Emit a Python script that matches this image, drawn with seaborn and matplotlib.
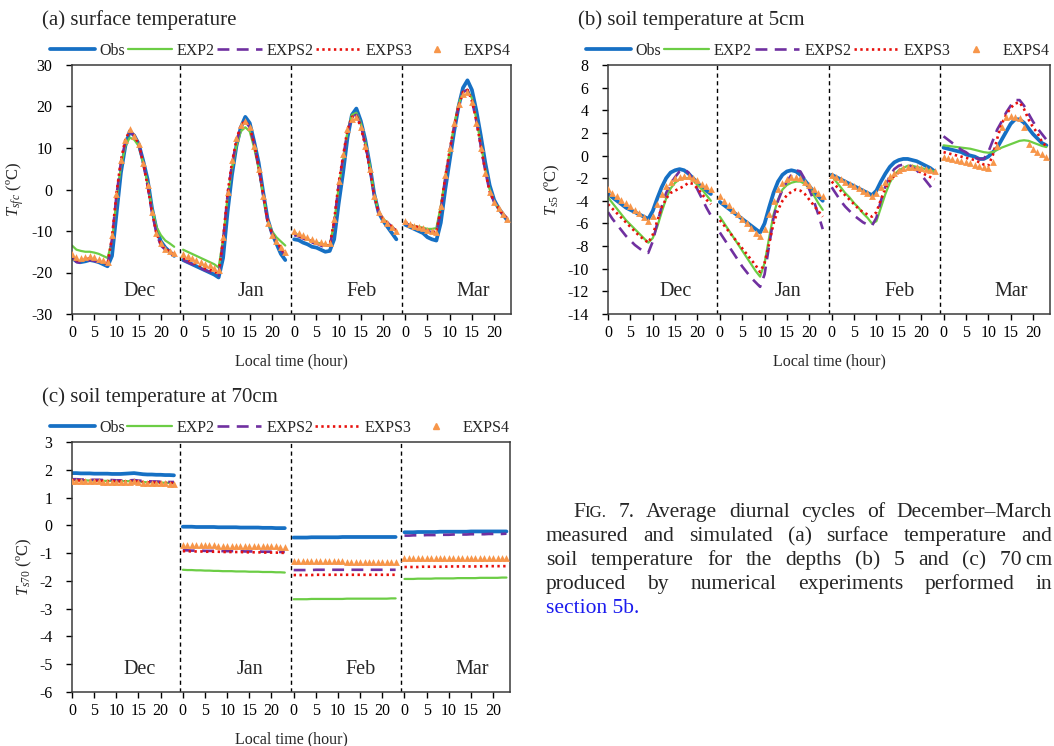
import numpy as np
import pandas as pd
import matplotlib
matplotlib.use("Agg")
import matplotlib.pyplot as plt
from matplotlib.lines import Line2D
from matplotlib.transforms import IdentityTransform
import seaborn as sns

sns.set_style("ticks")
plt.rcParams["font.family"] = ["Liberation Serif", "DejaVu Serif"]
plt.rcParams["mathtext.fontset"] = "custom"
plt.rcParams["mathtext.rm"] = "Liberation Serif"
plt.rcParams["mathtext.it"] = "Liberation Serif:italic"

months = ["Dec", "Jan", "Feb", "Mar"]
hours = list(range(24))
names = ["Obs", "EXP2", "EXPS2", "EXPS3", "EXPS4"]

# (a) surface temperature, Dec | Jan | Feb | Mar, hourly
sfc_obs = [-16.5, -17.3, -17.5, -17.3, -17.0, -17.2, -17.5, -18.0, -18.5, -16.0, -6.0, 4.0, 10.5, 14.0, 13.0, 11.0, 7.0, 2.5, -4.5, -9.5, -12.5, -14.0, -15.0, -16.0,
           -17.0, -17.5, -18.0, -18.5, -19.0, -19.5, -20.0, -20.5, -21.2, -16.5, -5.5, 3.5, 10.5, 15.0, 17.5, 16.0, 11.5, 6.5, -0.5, -7.0, -10.5, -13.0, -15.5, -17.0,
           -12.0, -12.2, -12.8, -13.2, -13.8, -14.0, -14.5, -15.0, -14.8, -12.0, -3.5, 4.0, 12.5, 18.0, 19.5, 16.5, 12.0, 6.0, -1.0, -5.5, -7.5, -9.0, -10.5, -12.0,
           -8.5, -9.0, -9.5, -10.0, -10.5, -11.5, -12.0, -12.3, -8.0, 0.0, 7.0, 14.0, 20.0, 24.5, 26.3, 24.0, 19.0, 13.0, 6.5, 1.0, -2.5, -4.5, -6.0, -7.5]
sfc_exp2 = [-13.5, -14.5, -14.8, -15.0, -15.0, -15.2, -15.5, -16.0, -16.5, -12.5, -2.5, 5.5, 10.5, 12.5, 12.0, 10.5, 6.5, 1.5, -4.5, -9.0, -11.0, -12.3, -13.0, -13.8,
            -14.5, -15.0, -15.5, -16.0, -16.5, -17.0, -17.5, -18.0, -18.8, -12.0, -2.0, 5.0, 10.5, 14.0, 15.0, 14.0, 10.0, 5.0, -1.0, -7.5, -10.0, -11.5, -12.5, -13.5,
            -10.5, -11.0, -11.5, -12.0, -12.5, -12.8, -13.0, -13.5, -13.5, -8.0, 0.5, 7.0, 14.0, 18.0, 18.5, 16.0, 11.5, 6.0, -1.0, -5.5, -7.0, -8.0, -9.0, -10.0,
            -8.0, -8.5, -8.8, -9.0, -9.2, -9.5, -9.5, -9.3, -4.0, 3.0, 9.0, 15.5, 20.5, 23.5, 24.0, 22.0, 17.0, 11.0, 5.0, 0.0, -3.0, -4.5, -6.0, -7.0]
sfc_exps2 = [-16.0, -17.5, -17.7, -17.3, -17.0, -17.2, -17.5, -17.8, -18.2, -12.0, -1.5, 6.5, 11.5, 14.0, 13.0, 11.0, 6.5, 1.0, -5.5, -10.5, -13.5, -14.5, -15.2, -16.0,
             -17.0, -17.5, -18.0, -18.5, -19.0, -19.5, -19.8, -20.2, -20.8, -12.5, -1.5, 6.0, 11.5, 15.0, 16.5, 15.0, 11.0, 5.5, -1.0, -7.5, -10.5, -12.5, -14.5, -16.0,
             -11.0, -11.3, -11.8, -12.3, -12.8, -13.0, -13.5, -14.0, -14.0, -8.0, 1.0, 7.5, 14.0, 17.5, 18.0, 15.5, 11.0, 5.5, -1.5, -5.5, -7.0, -8.0, -9.0, -10.0,
             -8.0, -8.7, -9.0, -9.3, -9.5, -10.0, -10.3, -10.5, -5.0, 2.5, 9.0, 15.0, 20.0, 23.5, 24.0, 21.5, 16.5, 10.5, 4.5, -0.5, -3.0, -4.5, -6.0, -7.0]
sfc_exps3 = [-16.0, -17.0, -17.2, -16.8, -16.6, -16.8, -17.2, -17.5, -18.0, -11.5, -1.0, 7.0, 12.0, 14.2, 13.0, 11.0, 6.5, 1.0, -5.5, -10.5, -13.2, -14.2, -15.0, -15.7,
             -16.5, -17.0, -17.5, -18.0, -18.5, -19.0, -19.3, -19.8, -20.3, -12.0, -1.0, 6.5, 12.0, 15.5, 16.5, 15.0, 11.0, 5.5, -1.0, -7.5, -10.5, -12.5, -14.0, -15.5,
             -10.5, -11.0, -11.5, -12.0, -12.5, -12.8, -13.2, -13.5, -13.5, -7.5, 1.5, 8.0, 14.5, 17.5, 17.8, 15.0, 10.5, 5.0, -1.5, -5.5, -7.0, -8.0, -9.0, -10.0,
             -7.8, -8.5, -8.8, -9.1, -9.4, -9.8, -10.1, -10.3, -4.5, 3.0, 9.5, 15.5, 20.0, 23.5, 24.0, 21.5, 16.5, 10.5, 4.5, -0.5, -3.0, -4.5, -6.0, -7.0]
sfc_exps4 = [-15.5, -16.3, -16.5, -16.2, -16.0, -16.2, -16.7, -17.0, -17.5, -11.0, -1.0, 7.0, 12.0, 14.5, 13.0, 11.0, 6.5, 1.0, -5.5, -10.5, -13.0, -14.3, -14.8, -15.3,
             -15.5, -16.0, -16.5, -17.0, -17.5, -18.0, -18.3, -18.8, -19.3, -11.5, -0.5, 7.0, 12.5, 15.5, 16.5, 15.0, 10.5, 5.0, -1.5, -8.0, -11.0, -12.5, -13.8, -15.0,
             -10.0, -10.5, -11.0, -11.5, -12.0, -12.3, -12.7, -13.0, -13.0, -7.0, 2.0, 8.5, 14.5, 17.0, 17.5, 15.0, 10.5, 5.0, -1.5, -5.5, -7.0, -8.0, -9.0, -10.0,
             -7.5, -8.3, -8.7, -9.0, -9.3, -9.8, -10.0, -10.2, -4.0, 3.5, 10.0, 16.0, 20.5, 23.0, 23.5, 21.0, 16.0, 10.0, 4.0, -0.5, -3.0, -4.5, -6.0, -7.0]

# (b) soil temperature at 5 cm
s5_obs = [-3.4, -3.7, -4.0, -4.3, -4.6, -4.8, -5.0, -5.2, -5.4, -5.6, -4.9, -3.8, -2.8, -2.0, -1.5, -1.3, -1.2, -1.3, -1.6, -2.0, -2.4, -2.8, -3.1, -3.4,
          -4.1, -4.4, -4.7, -5.0, -5.3, -5.6, -5.9, -6.2, -6.5, -6.8, -6.0, -4.6, -3.3, -2.3, -1.7, -1.4, -1.3, -1.4, -1.7, -2.2, -2.7, -3.2, -3.6, -4.0,
          -1.7, -1.9, -2.1, -2.3, -2.5, -2.7, -2.9, -3.1, -3.3, -3.5, -3.1, -2.3, -1.6, -1.0, -0.6, -0.4, -0.3, -0.3, -0.4, -0.5, -0.7, -0.9, -1.1, -1.4,
          0.7, 0.6, 0.5, 0.4, 0.3, 0.1, 0.0, -0.1, -0.3, -0.3, -0.1, 0.3, 0.7, 1.4, 2.1, 2.8, 3.2, 3.2, 2.9, 2.4, 1.9, 1.5, 1.1, 0.9]
s5_exp2 = [-3.7, -4.2, -4.7, -5.2, -5.7, -6.1, -6.5, -6.9, -7.3, -7.7, -7.3, -6.3, -5.0, -3.8, -2.9, -2.4, -2.1, -2.0, -2.0, -2.2, -2.6, -3.0, -3.5, -4.0,
           -5.4, -6.0, -6.6, -7.2, -7.8, -8.4, -9.0, -9.6, -10.2, -10.7, -9.5, -7.3, -5.2, -3.9, -3.0, -2.6, -2.4, -2.3, -2.3, -2.5, -2.9, -3.5, -4.2, -4.8,
           -1.8, -2.3, -2.8, -3.3, -3.7, -4.2, -4.6, -5.1, -5.5, -6.0, -5.8, -4.6, -3.4, -2.4, -1.7, -1.3, -1.1, -0.9, -0.9, -1.0, -1.1, -1.2, -1.3, -1.4,
           0.9, 0.85, 0.8, 0.75, 0.7, 0.65, 0.6, 0.5, 0.4, 0.3, 0.25, 0.3, 0.5, 0.7, 0.85, 1.0, 1.15, 1.3, 1.35, 1.3, 1.15, 1.0, 0.85, 0.75]
s5_exps2 = [-5.0, -5.6, -6.1, -6.6, -7.1, -7.5, -7.9, -8.2, -8.5, -8.6, -7.6, -6.0, -4.5, -3.3, -2.5, -1.9, -1.4, -1.2, -1.5, -2.2, -3.0, -3.8, -4.6, -5.3,
            -6.8, -7.4, -8.0, -8.6, -9.2, -9.8, -10.3, -10.8, -11.2, -11.6, -10.5, -8.0, -5.5, -4.0, -3.0, -2.3, -1.7, -1.3, -1.4, -2.1, -3.0, -4.0, -5.2, -6.5,
            -2.8, -3.4, -4.0, -4.5, -4.9, -5.3, -5.6, -5.9, -6.1, -6.2, -5.5, -4.0, -2.7, -1.8, -1.2, -0.9, -0.8, -0.8, -1.0, -1.3, -1.7, -2.2, -2.7, -3.3,
            1.7, 1.4, 1.1, 0.8, 0.5, 0.3, 0.0, -0.2, -0.3, -0.3, 0.3, 1.3, 2.3, 3.0, 3.8, 4.4, 4.9, 4.9, 4.4, 3.7, 3.0, 2.4, 1.9, 1.4]
s5_exps3 = [-4.3, -4.7, -5.1, -5.5, -5.9, -6.3, -6.7, -7.1, -7.4, -7.7, -7.0, -5.8, -4.6, -3.8, -3.3, -3.1, -2.9, -2.7, -2.4, -2.5, -2.9, -3.4, -3.9, -4.3,
            -5.7, -6.2, -6.7, -7.2, -7.7, -8.2, -8.7, -9.2, -9.7, -10.3, -9.5, -7.8, -6.0, -4.8, -4.0, -3.5, -3.2, -3.0, -3.1, -3.4, -3.9, -4.4, -4.9, -5.4,
            -2.3, -2.7, -3.1, -3.5, -3.9, -4.3, -4.7, -5.0, -5.2, -5.4, -5.0, -3.9, -2.9, -2.2, -1.8, -1.5, -1.3, -1.2, -1.2, -1.3, -1.5, -1.7, -1.9, -2.1,
            0.3, 0.2, 0.1, 0.0, -0.1, -0.2, -0.3, -0.4, -0.6, -0.8, -0.9, 0.0, 1.5, 2.8, 3.6, 4.2, 4.6, 4.7, 4.1, 3.2, 2.5, 2.0, 1.2, 0.8]
s5_exps4 = [-3.0, -3.3, -3.6, -3.9, -4.2, -4.5, -4.8, -5.1, -5.4, -5.8, -5.3, -4.3, -3.4, -2.7, -2.3, -2.0, -1.9, -1.8, -1.8, -2.0, -2.2, -2.5, -2.7, -3.0,
            -3.6, -4.0, -4.4, -4.8, -5.2, -5.6, -6.0, -6.4, -6.8, -7.1, -6.5, -5.2, -4.0, -3.0, -2.4, -2.1, -1.9, -1.9, -2.0, -2.3, -2.6, -3.0, -3.3, -3.6,
            -1.7, -1.9, -2.1, -2.3, -2.5, -2.7, -2.9, -3.1, -3.3, -3.6, -3.3, -2.8, -2.3, -1.8, -1.5, -1.3, -1.1, -1.0, -1.0, -1.0, -1.1, -1.2, -1.3, -1.4,
            -0.1, -0.2, -0.3, -0.4, -0.5, -0.6, -0.7, -0.8, -0.9, -1.0, -1.1, -0.6, 0.8, 2.5, 3.4, 3.5, 3.4, 3.3, 2.5, 1.0, 0.6, 0.3, 0.1, -0.1]

# (c) soil temperature at 70 cm
s70_obs = [1.88, 1.88, 1.87, 1.87, 1.87, 1.86, 1.86, 1.86, 1.86, 1.85, 1.85, 1.85, 1.86, 1.87, 1.88, 1.86, 1.84, 1.83, 1.83, 1.82, 1.82, 1.81, 1.81, 1.80,
           -0.05, -0.05, -0.05, -0.06, -0.06, -0.06, -0.06, -0.06, -0.07, -0.07, -0.07, -0.07, -0.07, -0.08, -0.08, -0.08, -0.08, -0.08, -0.09, -0.09, -0.09, -0.10, -0.10, -0.10,
           -0.44, -0.44, -0.44, -0.44, -0.43, -0.43, -0.43, -0.43, -0.43, -0.43, -0.43, -0.42, -0.42, -0.42, -0.42, -0.42, -0.42, -0.42, -0.42, -0.42, -0.42, -0.42, -0.42, -0.42,
           -0.25, -0.25, -0.25, -0.24, -0.24, -0.24, -0.24, -0.24, -0.23, -0.23, -0.23, -0.23, -0.23, -0.23, -0.23, -0.22, -0.22, -0.22, -0.22, -0.22, -0.22, -0.22, -0.22, -0.22]
s70_exp2 = [1.63, 1.63, 1.62, 1.62, 1.61, 1.61, 1.61, 1.60, 1.60, 1.60, 1.59, 1.59, 1.59, 1.59, 1.59, 1.58, 1.56, 1.55, 1.55, 1.54, 1.54, 1.53, 1.53, 1.52,
            -1.60, -1.61, -1.61, -1.62, -1.62, -1.63, -1.63, -1.64, -1.64, -1.65, -1.65, -1.65, -1.66, -1.66, -1.66, -1.67, -1.67, -1.67, -1.68, -1.68, -1.68, -1.69, -1.69, -1.70,
            -2.66, -2.66, -2.66, -2.66, -2.65, -2.65, -2.65, -2.65, -2.65, -2.65, -2.65, -2.65, -2.64, -2.64, -2.64, -2.64, -2.64, -2.64, -2.64, -2.64, -2.64, -2.64, -2.63, -2.63,
            -1.93, -1.93, -1.93, -1.92, -1.92, -1.92, -1.92, -1.91, -1.91, -1.91, -1.91, -1.91, -1.90, -1.90, -1.90, -1.90, -1.90, -1.89, -1.89, -1.89, -1.89, -1.89, -1.88, -1.88]
s70_exps2 = [1.66, 1.66, 1.65, 1.65, 1.64, 1.64, 1.64, 1.63, 1.63, 1.63, 1.62, 1.62, 1.62, 1.62, 1.63, 1.61, 1.60, 1.59, 1.58, 1.58, 1.57, 1.57, 1.56, 1.56,
             -0.90, -0.90, -0.91, -0.91, -0.91, -0.92, -0.92, -0.92, -0.92, -0.93, -0.93, -0.93, -0.93, -0.93, -0.94, -0.94, -0.94, -0.94, -0.95, -0.95, -0.95, -0.95, -0.96, -0.96,
             -1.61, -1.61, -1.61, -1.61, -1.61, -1.60, -1.60, -1.60, -1.60, -1.60, -1.60, -1.60, -1.60, -1.60, -1.60, -1.60, -1.60, -1.60, -1.60, -1.60, -1.60, -1.60, -1.60, -1.60,
             -0.37, -0.37, -0.36, -0.36, -0.36, -0.35, -0.35, -0.35, -0.34, -0.34, -0.34, -0.33, -0.33, -0.33, -0.33, -0.32, -0.32, -0.32, -0.32, -0.31, -0.31, -0.31, -0.31, -0.30]
s70_exps3 = [1.62, 1.62, 1.61, 1.61, 1.60, 1.60, 1.60, 1.59, 1.59, 1.59, 1.58, 1.58, 1.58, 1.58, 1.59, 1.57, 1.56, 1.55, 1.54, 1.54, 1.53, 1.53, 1.52, 1.52,
             -0.93, -0.93, -0.94, -0.94, -0.94, -0.95, -0.95, -0.95, -0.95, -0.96, -0.96, -0.96, -0.96, -0.96, -0.97, -0.97, -0.97, -0.97, -0.98, -0.98, -0.98, -0.98, -0.99, -0.99,
             -1.79, -1.79, -1.79, -1.79, -1.79, -1.78, -1.78, -1.78, -1.78, -1.78, -1.78, -1.78, -1.78, -1.78, -1.78, -1.78, -1.78, -1.78, -1.78, -1.78, -1.78, -1.78, -1.78, -1.78,
             -1.50, -1.50, -1.50, -1.50, -1.49, -1.49, -1.49, -1.49, -1.49, -1.49, -1.48, -1.48, -1.48, -1.48, -1.48, -1.48, -1.48, -1.48, -1.47, -1.47, -1.47, -1.47, -1.47, -1.47]
s70_exps4 = [1.60, 1.60, 1.59, 1.59, 1.58, 1.58, 1.58, 1.57, 1.57, 1.57, 1.56, 1.56, 1.56, 1.56, 1.58, 1.55, 1.54, 1.53, 1.52, 1.52, 1.51, 1.51, 1.50, 1.50,
             -0.70, -0.70, -0.71, -0.71, -0.71, -0.72, -0.72, -0.72, -0.73, -0.73, -0.73, -0.74, -0.74, -0.74, -0.74, -0.75, -0.75, -0.75, -0.76, -0.76, -0.76, -0.76, -0.77, -0.77,
             -1.28, -1.28, -1.28, -1.29, -1.29, -1.29, -1.29, -1.30, -1.30, -1.30, -1.30, -1.30, -1.31, -1.31, -1.31, -1.31, -1.31, -1.31, -1.32, -1.32, -1.32, -1.32, -1.32, -1.32,
             -1.18, -1.18, -1.18, -1.18, -1.18, -1.18, -1.18, -1.18, -1.18, -1.18, -1.18, -1.18, -1.18, -1.18, -1.18, -1.18, -1.18, -1.18, -1.18, -1.18, -1.18, -1.18, -1.18, -1.18]

styles = {
    "Obs":   dict(color="#1670c4", lw=2.7, ls="-"),
    "EXP2":  dict(color="#6ccd45", lw=1.6, ls="-"),
    "EXPS2": dict(color="#7030a0", lw=1.9, ls=(0, (4.5, 2.8))),
    "EXPS3": dict(color="#e8100c", lw=1.9, ls=(0, (0.9, 1.3))),
    "EXPS4": dict(color="#f7964a"),
}


def long_frame(series):
    rows = []
    for name, vals in zip(names, series):
        for i, v in enumerate(vals):
            m, h = divmod(i, 24)
            rows.append((name, months[m], m * 25 + hours[h], v))
    return pd.DataFrame(rows, columns=["series", "month", "x", "T"])


def draw_panel(ax, series, ylim, yticks, ylabel):
    df = long_frame(series)
    for name in names:
        sub = df[df.series == name]
        st = styles[name]
        if name == "EXPS4":
            sns.scatterplot(data=sub, x="x", y="T", marker="^", s=24, color=st["color"],
                            linewidth=0, ax=ax, legend=False, zorder=5)
        else:
            sns.lineplot(data=sub, x="x", y="T", units="month", estimator=None, sort=True,
                         color=st["color"], lw=st["lw"], linestyle=st["ls"], ax=ax, legend=False)
    for m in range(1, 4):
        ax.axvline(m * 25 - 0.7, color="black", lw=1.0, ls=(0, (3, 2.5)), zorder=1)
    for m, mon in enumerate(months):
        ax.text(m * 25 + 15.2, 0.09, mon, transform=ax.get_xaxis_transform(),
                ha="center", va="center", fontsize=14.5)
    ax.set_xlim(0, 98.8)
    ax.set_ylim(*ylim)
    ax.set_yticks(yticks)
    ax.set_yticklabels([str(v) for v in yticks])
    xt = [m * 25 + h for m in range(4) for h in (0, 5, 10, 15, 20)]
    ax.set_xticks(xt)
    ax.set_xticklabels([str(h) for m in range(4) for h in (0, 5, 10, 15, 20)])
    ax.set_xlabel("Local time (hour)", fontsize=11.5, labelpad=9)
    ax.set_ylabel(ylabel, fontsize=12, labelpad=4)
    ax.tick_params(axis="both", direction="out", length=4, width=1, labelsize=11.5, colors="black")
    ax.tick_params(axis="y", pad=10)
    ax.tick_params(axis="x", pad=4)
    for sp in ax.spines.values():
        sp.set_color("#3a3a3a")
        sp.set_linewidth(1.1)
    handles = []
    for name in names:
        st = styles[name]
        if name == "EXPS4":
            handles.append(Line2D([], [], color=st["color"], marker="^", ls="none", markersize=4.5))
        else:
            handles.append(Line2D([], [], color=st["color"], lw=st["lw"], ls=st["ls"]))
    ax.legend(handles, names, loc="lower left", bbox_to_anchor=(-0.05, 1.025, 1.05, 0.1),
              mode="expand", ncol=5, frameon=False, handlelength=2.8, handletextpad=0.3,
              fontsize=11.5, borderaxespad=0, borderpad=0)


W, H = 1054, 746
fig = plt.figure(figsize=(W / 100, H / 100), dpi=100)

ax_a = fig.add_axes([72 / W, 1 - 314 / H, 439 / W, 249 / H])
ax_b = fig.add_axes([608 / W, 1 - 314 / H, 442 / W, 249 / H])
ax_c = fig.add_axes([72 / W, 1 - 692 / H, 438 / W, 250 / H])

draw_panel(ax_a, [sfc_obs, sfc_exp2, sfc_exps2, sfc_exps3, sfc_exps4],
           (-30, 30), list(range(-30, 31, 10)), "$T_{sfc}$ (ºC)")
draw_panel(ax_b, [s5_obs, s5_exp2, s5_exps2, s5_exps3, s5_exps4],
           (-14, 8), list(range(-14, 9, 2)), "$T_{s5}$ (ºC)")
draw_panel(ax_c, [s70_obs, s70_exp2, s70_exps2, s70_exps3, s70_exps4],
           (-6, 3), list(range(-6, 4, 1)), "$T_{s70}$ (ºC)")

fig.text(42 / W, 1 - 20 / H, "(a) surface temperature", fontsize=15, va="center", ha="left")
fig.text(578 / W, 1 - 20 / H, "(b) soil temperature at 5cm", fontsize=15, va="center", ha="left")
fig.text(42 / W, 1 - 397 / H, "(c) soil temperature at 70cm", fontsize=15, va="center", ha="left")

# caption, justified by hand
cap_lines = [
    "FIG. 7. Average diurnal cycles of December\u2013March",
    "measured and simulated (a) surface temperature and",
    "soil temperature for the depths (b) 5 and (c) 70\u2009cm",
    "produced by numerical experiments performed in",
]
cap_size = 15.5
renderer = fig.canvas.get_renderer()
pix = IdentityTransform()
for k, line in enumerate(cap_lines):
    x0 = 573 if k == 0 else 546
    x1 = 1052
    y = H - (517 + 24 * k)
    words = []
    for w in line.split(" "):
        if w == "FIG.":
            parts = [fig.text(0, y, "F", fontsize=cap_size, va="baseline", transform=pix),
                     fig.text(0, y, "IG.", fontsize=cap_size * 0.78, va="baseline", transform=pix)]
        else:
            parts = [fig.text(0, y, w, fontsize=cap_size, va="baseline", transform=pix)]
        words.append(parts)
    widths = [[p.get_window_extent(renderer).width for p in parts] for parts in words]
    total = sum(sum(ws) for ws in widths)
    gap = (x1 - x0 - total) / (len(words) - 1)
    x = x0
    for parts, ws in zip(words, widths):
        for p, wdt in zip(parts, ws):
            p.set_x(x)
            x += wdt
        x += gap
fig.text(546, H - (517 + 24 * 4), "section 5b.", fontsize=cap_size, va="baseline",
         color="#1a1aee", transform=pix)

fig.savefig("out.png", dpi=100)
